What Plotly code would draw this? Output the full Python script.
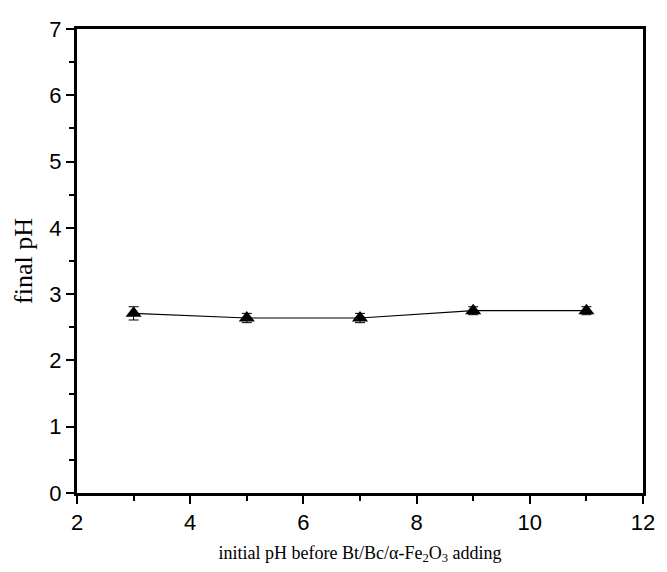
import plotly.graph_objects as go

initial_ph = [3, 5, 7, 9, 11]
final_ph = [2.71, 2.64, 2.64, 2.75, 2.75]
final_err = [0.10, 0.07, 0.07, 0.06, 0.06]

fig = go.Figure()
fig.add_trace(go.Scatter(
    x=initial_ph, y=final_ph,
    mode="lines+markers",
    line=dict(color="black", width=1.2),
    marker=dict(symbol="triangle-up", size=14, color="black"),
    error_y=dict(type="data", array=final_err, color="black", thickness=1, width=5),
    showlegend=False,
))

axis_common = dict(
    showgrid=False, zeroline=False,
    showline=True, linecolor="black", linewidth=3, mirror=True,
    ticks="outside", ticklen=8, tickwidth=2, tickcolor="black",
    tickfont=dict(family="Liberation Sans, Arial", size=22, color="black"),
)

fig.update_xaxes(
    range=[2, 12], tick0=2, dtick=2,
    minor=dict(ticks="outside", ticklen=5, tickwidth=2, dtick=1, tickcolor="black"),
    title=dict(text="initial pH before Bt/Bc/α-Fe<sub>2</sub>O<sub>3</sub> adding",
               font=dict(family="Liberation Serif, Times New Roman", size=18, color="black"),
               standoff=12),
    **axis_common,
)
fig.update_yaxes(
    range=[0, 7], tick0=0, dtick=1,
    minor=dict(ticks="outside", ticklen=5, tickwidth=2, dtick=0.5, tickcolor="black"),
    title=dict(text="final pH",
               font=dict(family="Liberation Serif, Times New Roman", size=26, color="black"),
               standoff=10),
    **axis_common,
)

fig.update_layout(
    width=667, height=572,
    margin=dict(l=77, r=15, t=29, b=76),
    paper_bgcolor="white", plot_bgcolor="white",
)

fig.write_html("out.html")
